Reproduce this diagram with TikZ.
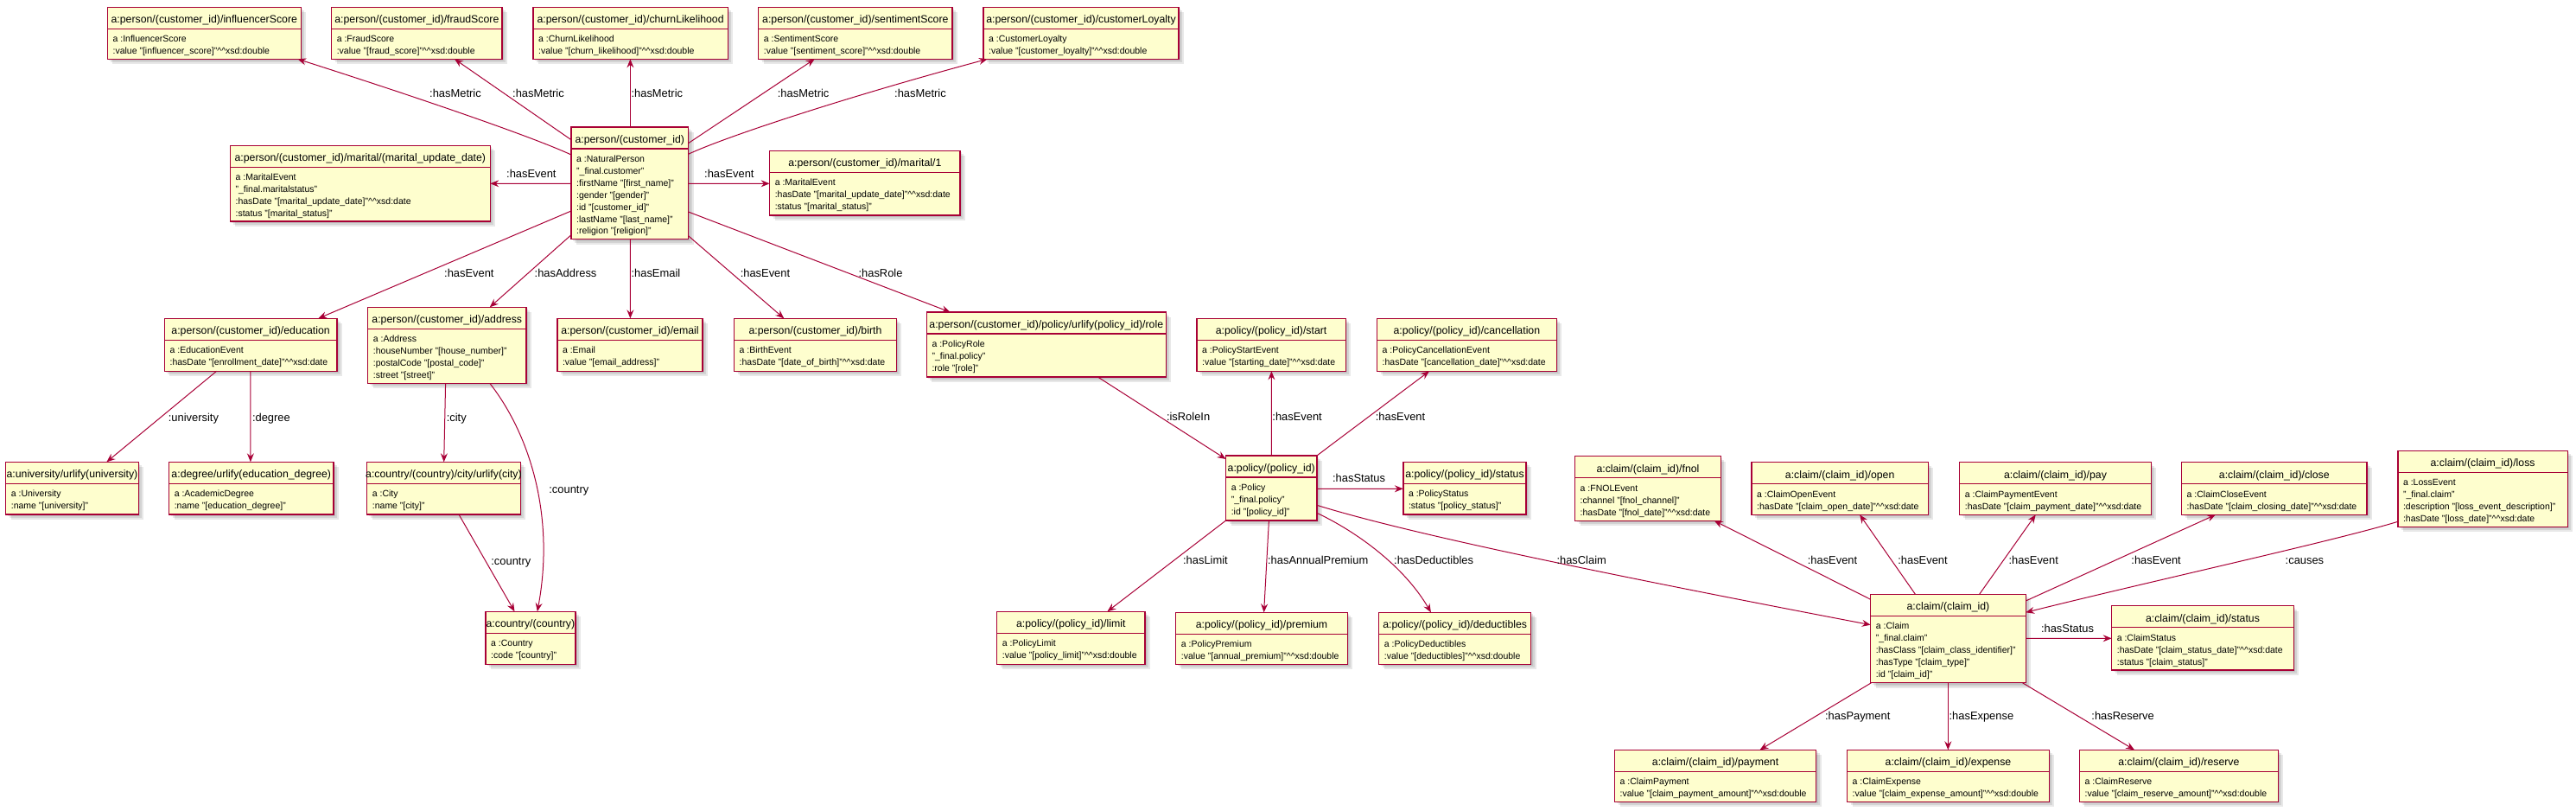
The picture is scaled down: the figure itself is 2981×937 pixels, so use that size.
\documentclass[tikz,border=0pt]{standalone}
\usepackage{fontspec}
\setmainfont{Liberation Sans}
\usetikzlibrary{arrows.meta,fit}
\definecolor{ucol}{HTML}{A80036}
\definecolor{ufill}{HTML}{FEFECE}
\newcommand{\dx}{\textasciicircum\textasciicircum xsd:}
\tikzset{
 umlbox/.style={draw=ucol, fill=ufill, line width=1.4pt, inner sep=0pt, outer sep=0pt},
 utitle/.style={font=\fontsize{12.3}{14}\selectfont, anchor=base, inner sep=0pt},
 ubody/.style={font=\fontsize{10.5}{13.9}\selectfont, align=left, anchor=north west, inner sep=0pt},
 ushadow/.style={fill=black, opacity=0.09},
 usep/.style={draw=ucol, line width=1.4pt},
 rel/.style={draw=ucol, line width=1pt, -{Stealth[length=10pt,width=8pt,inset=3.5pt]}},
 lbl/.style={font=\fontsize{12.9}{15}\selectfont, anchor=base west, inner sep=0pt},
}
% name, left, top, right, bottom, title, body
\newcommand{\ubox}[7]{%
  \fill[ushadow] ({#2+2},{#3+2}) rectangle ({#4+2},{#5+2});
  \fill[ushadow] ({#2+4},{#3+4}) rectangle ({#4+4},{#5+4});
  \fill[ushadow] ({#2+6},{#3+6}) rectangle ({#4+6},{#5+6});
  \node[umlbox, fit={(#2,#3) (#4,#5)}] (#1) {};
  \draw[usep] (#2,{#3+25}) -- (#4,{#3+25});
  \node[utitle] (#1-t) at ({(#2+#4)/2},{#3+18.3}) {#6};
  \node[ubody] (#1-b) at ({#2+6},{#3+30.6}) {\strut #7};
}
\begin{document}
\begin{tikzpicture}[x=1pt,y=-1pt]
\useasboundingbox (0,0) rectangle (2981,937);
% ---- boxes
\ubox{I}{124.4}{8.3}{348.2}{68.3}{a:person/(customer\_id)/influencerScore}{a :InfluencerScore\\:value "[influencer\_score]"\dx double}
\ubox{F}{383.6}{8.3}{581.1}{68.3}{a:person/(customer\_id)/fraudScore}{a :FraudScore\\:value "[fraud\_score]"\dx double}
\ubox{C}{617}{8.3}{842.3}{68.3}{a:person/(customer\_id)/churnLikelihood}{a :ChurnLikelihood\\:value "[churn\_likelihood]"\dx double}
\ubox{S}{877.7}{8.3}{1102}{68.3}{a:person/(customer\_id)/sentimentScore}{a :SentimentScore\\:value "[sentiment\_score]"\dx double}
\ubox{L}{1138}{8.3}{1364}{68.3}{a:person/(customer\_id)/customerLoyalty}{a :CustomerLoyalty\\:value "[customer\_loyalty]"\dx double}
\ubox{MU}{266.4}{168.3}{567.3}{256}{a:person/(customer\_id)/marital/(marital\_update\_date)}{a :MaritalEvent\\"\_final.maritalstatus"\\:hasDate "[marital\_update\_date]"\dx date\\:status "[marital\_status]"}
\ubox{P}{661}{147}{796.5}{276.5}{a:person/(customer\_id)}{a :NaturalPerson\\"\_final.customer"\\:firstName "[first\_name]"\\:gender "[gender]"\\:id "[customer\_id]"\\:lastName "[last\_name]"\\:religion "[religion]"}
\ubox{MO}{890.6}{174.3}{1111.1}{249}{a:person/(customer\_id)/marital/1}{a :MaritalEvent\\:hasDate "[marital\_update\_date]"\dx date\\:status "[marital\_status]"}
\ubox{ED}{190.4}{368.3}{389.8}{429.3}{a:person/(customer\_id)/education}{a :EducationEvent\\:hasDate "[enrollment\_date]"\dx date}
\ubox{AD}{425.7}{355.3}{608.9}{443.3}{a:person/(customer\_id)/address}{a :Address\\:houseNumber "[house\_number]"\\:postalCode "[postal\_code]"\\:street "[street]"}
\ubox{EM}{644.8}{368.3}{813.1}{429.3}{a:person/(customer\_id)/email}{a :Email\\:value "[email\_address]"}
\ubox{BI}{849.5}{368.3}{1037.4}{429.3}{a:person/(customer\_id)/birth}{a :BirthEvent\\:hasDate "[date\_of\_birth]"\dx date}
\ubox{RO}{1072.3}{361}{1349.3}{436}{a:person/(customer\_id)/policy/urlify(policy\_id)/role}{a :PolicyRole\\"\_final.policy"\\:role "[role]"}
\ubox{UN}{6.7}{534.3}{160.2}{595}{a:university/urlify(university)}{a :University\\:name "[university]"}
\ubox{DE}{195.6}{534.3}{386}{595}{a:degree/urlify(education\_degree)}{a :AcademicDegree\\:name "[education\_degree]"}
\ubox{CI}{424.7}{534.3}{602.2}{595}{a:country/(country)/city/urlify(city)}{a :City\\:name "[city]"}
\ubox{CO}{562}{707.3}{665.8}{768.3}{a:country/(country)}{a :Country\\:code "[country]"}
\ubox{ST}{1385}{368.3}{1557.2}{429.3}{a:policy/(policy\_id)/start}{a :PolicyStartEvent\\:value "[starting\_date]"\dx date}
\ubox{CA}{1593.5}{368.3}{1801.3}{429.3}{a:policy/(policy\_id)/cancellation}{a :PolicyCancellationEvent\\:hasDate "[cancellation\_date]"\dx date}
\ubox{PO}{1418.6}{527}{1523.9}{602}{a:policy/(policy\_id)}{a :Policy\\"\_final.policy"\\:id "[policy\_id]"}
\ubox{PS}{1623.8}{534.3}{1766.1}{595}{a:policy/(policy\_id)/status}{a :PolicyStatus\\:status "[policy\_status]"}
\ubox{LI}{1153.7}{707.3}{1324.9}{768.3}{a:policy/(policy\_id)/limit}{a :PolicyLimit\\:value "[policy\_limit]"\dx double}
\ubox{PR}{1360.7}{708.3}{1559.3}{768.3}{a:policy/(policy\_id)/premium}{a :PolicyPremium\\:value "[annual\_premium]"\dx double}
\ubox{DD}{1595.7}{708.3}{1771.7}{768.3}{a:policy/(policy\_id)/deductibles}{a :PolicyDeductibles\\:value "[deductibles]"\dx double}
\ubox{FN}{1822.5}{527.7}{1991.4}{602.3}{a:claim/(claim\_id)/fnol}{a :FNOLEvent\\:channel "[fnol\_channel]"\\:hasDate "[fnol\_date]"\dx date}
\ubox{OP}{2027}{534.7}{2231.3}{595.3}{a:claim/(claim\_id)/open}{a :ClaimOpenEvent\\:hasDate "[claim\_open\_date]"\dx date}
\ubox{PA}{2267.7}{534.7}{2489.2}{595.3}{a:claim/(claim\_id)/pay}{a :ClaimPaymentEvent\\:hasDate "[claim\_payment\_date]"\dx date}
\ubox{CL}{2524.5}{534.7}{2739.1}{595.3}{a:claim/(claim\_id)/close}{a :ClaimCloseEvent\\:hasDate "[claim\_closing\_date]"\dx date}
\ubox{LO}{2774.8}{521.3}{2971.4}{609.3}{a:claim/(claim\_id)/loss}{a :LossEvent\\"\_final.claim"\\:description "[loss\_event\_description]"\\:hasDate "[loss\_date]"\dx date}
\ubox{CM}{2164.7}{687.3}{2344.2}{789.7}{a:claim/(claim\_id)}{a :Claim\\"\_final.claim"\\:hasClass "[claim\_class\_identifier]"\\:hasType "[claim\_type]"\\:id "[claim\_id]"}
\ubox{CS}{2443.6}{700.7}{2654.4}{775}{a:claim/(claim\_id)/status}{a :ClaimStatus\\:hasDate "[claim\_status\_date]"\dx date\\:status "[claim\_status]"}
\ubox{PY}{1868.5}{867.3}{2101.6}{927.3}{a:claim/(claim\_id)/payment}{a :ClaimPayment\\:value "[claim\_payment\_amount]"\dx double}
\ubox{EX}{2137.5}{867.3}{2371.4}{927.3}{a:claim/(claim\_id)/expense}{a :ClaimExpense\\:value "[claim\_expense\_amount]"\dx double}
\ubox{RE}{2406.4}{867.3}{2636.4}{927.3}{a:claim/(claim\_id)/reserve}{a :ClaimReserve\\:value "[claim\_reserve\_amount]"\dx double}
% ---- connectors
\draw[rel] ([shift={(0,32)}]P.north west) .. controls (620,160) and (500,118) .. ([shift={(220,0)}]I.south west);
\draw[rel] ([shift={(0,14.7)}]P.north west) -- ([shift={(142.4,0)}]F.south west);
\draw[rel] ([shift={(68.4,0)}]P.north west) -- ([shift={(112.4,0)}]C.south west);
\draw[rel] ([shift={(0,18.7)}]P.north east) -- ([shift={(65,0)}]S.south west);
\draw[rel] ([shift={(0,31.3)}]P.north east) .. controls (840,158) and (980,112) .. ([shift={(4.7,0)}]L.south west);
\draw[rel] ([shift={(0,65.3)}]P.north west) -- ([shift={(0,44)}]MU.north east);
\draw[rel] ([shift={(0,65.3)}]P.north east) -- ([shift={(0,38)}]MO.north west);
\draw[rel] ([shift={(0,97)}]P.north west) -- ([shift={(177.9,0)}]ED.north west);
\draw[rel] ([shift={(0,124.7)}]P.north west) -- ([shift={(141.1,0)}]AD.north west);
\draw[rel] ([shift={(68.4,0)}]P.south west) -- ([shift={(84.6,0)}]EM.north west);
\draw[rel] ([shift={(0,-3.8)}]P.south east) -- ([shift={(57.8,0)}]BI.north west);
\draw[rel] ([shift={(0,98)}]P.north east) -- ([shift={(27.3,0)}]RO.north west);
\draw[rel] ([shift={(60.2,0)}]ED.south west) -- ([shift={(116.7,0)}]UN.north west);
\draw[rel] ([shift={(99.5,0)}]ED.south west) -- ([shift={(94.3,0)}]DE.north west);
\draw[rel] ([shift={(89.9,0)}]AD.south west) -- ([shift={(89,0)}]CI.north west);
\draw[rel] ([shift={(141.1,0)}]AD.south west) .. controls (615,505) and (642,600) .. ([shift={(59.8,0)}]CO.north west);
\draw[rel] ([shift={(106.3,0)}]CI.south west) -- ([shift={(33.5,0)}]CO.north west);
\draw[rel] ([shift={(198.1,0)}]RO.south west) -- ([shift={(0,4)}]PO.north west);
\draw[rel] ([shift={(52.8,0)}]PO.north west) -- ([shift={(86.4,0)}]ST.south west);
\draw[rel] (PO.north east) -- ([shift={(60.5,0)}]CA.south west);
\draw[rel] ([shift={(0,38.3)}]PO.north east) -- ([shift={(0,31)}]PS.north west);
\draw[rel] (PO.south west) -- ([shift={(127.7,0)}]LI.north west);
\draw[rel] ([shift={(49.8,0)}]PO.south west) -- ([shift={(101.9,0)}]PR.north west);
\draw[rel] ([shift={(0,-8.7)}]PO.south east) .. controls (1570,615) and (1625,655) .. ([shift={(60.2,0)}]DD.north west);
\draw[rel] ([shift={(0,-17.7)}]PO.south east) .. controls (1620,614) and (1815,656) .. ([shift={(0,35.4)}]CM.north west);
\draw[rel] ([shift={(0,6)}]CM.north west) -- ([shift={(161.2,0)}]FN.south west);
\draw[rel] ([shift={(51.7,0)}]CM.north west) -- ([shift={(125.1,0)}]OP.south west);
\draw[rel] ([shift={(125.9,0)}]CM.north west) -- ([shift={(88,0)}]PA.south west);
\draw[rel] ([shift={(0,7.7)}]CM.north east) -- ([shift={(39.5,0)}]CL.south west);
\draw[rel] ([shift={(0,-6)}]LO.south west) .. controls (2700,626) and (2494,671) .. ([shift={(0,21)}]CM.north east);
\draw[rel] ([shift={(0,51)}]CM.north east) -- ([shift={(0,37.6)}]CS.north west);
\draw[rel] ([shift={(0.8,0)}]CM.south west) -- ([shift={(168,0)}]PY.north west);
\draw[rel] ([shift={(89.6,0)}]CM.south west) -- ([shift={(116.8,0)}]EX.north west);
\draw[rel] ([shift={(-3.8,0)}]CM.south east) -- ([shift={(63.6,0)}]RE.north west);
% ---- labels
\node[lbl] (l1) at (497,112.9) {:hasMetric};
\node[lbl] (l2) at (593,112.9) {:hasMetric};
\node[lbl] (l3) at (730.4,112.9) {:hasMetric};
\node[lbl] (l4) at (899.7,112.9) {:hasMetric};
\node[lbl] (l5) at (1035,112.9) {:hasMetric};
\node[lbl] (l6) at (586,205.3) {:hasEvent};
\node[lbl] (l7) at (815,205.3) {:hasEvent};
\node[lbl] (l8) at (514,320.9) {:hasEvent};
\node[lbl] (l9) at (618.5,320.9) {:hasAddress};
\node[lbl] (l10) at (730.4,320.9) {:hasEmail};
\node[lbl] (l11) at (856.6,320.9) {:hasEvent};
\node[lbl] (l12) at (993.4,320.9) {:hasRole};
\node[lbl] (l13) at (194.7,487.3) {:university};
\node[lbl] (l14) at (291.8,487.3) {:degree};
\node[lbl] (l15) at (516.6,487.3) {:city};
\node[lbl] (l16) at (635.2,570.3) {:country};
\node[lbl] (l17) at (568.2,653.3) {:country};
\node[lbl] (l18) at (1349.8,486.9) {:isRoleIn};
\node[lbl] (l19) at (1472.2,486.9) {:hasEvent};
\node[lbl] (l20) at (1591.6,486.9) {:hasEvent};
\node[lbl] (l21) at (1541.9,557.9) {:hasStatus};
\node[lbl] (l22) at (1368.9,652.9) {:hasLimit};
\node[lbl] (l23) at (1466.9,652.9) {:hasAnnualPremium};
\node[lbl] (l24) at (1613,652.9) {:hasDeductibles};
\node[lbl] (l25) at (1801.3,652.9) {:hasClaim};
\node[lbl] (l26) at (2091.6,652.9) {:hasEvent};
\node[lbl] (l27) at (2196.1,652.9) {:hasEvent};
\node[lbl] (l28) at (2324.3,652.9) {:hasEvent};
\node[lbl] (l29) at (2466.2,652.9) {:hasEvent};
\node[lbl] (l30) at (2644.5,652.9) {:causes};
\node[lbl] (l31) at (2361.8,731.3) {:hasStatus};
\node[lbl] (l32) at (2111.9,832.9) {:hasPayment};
\node[lbl] (l33) at (2255.4,832.9) {:hasExpense};
\node[lbl] (l34) at (2420.2,832.9) {:hasReserve};
\end{tikzpicture}
\end{document}
